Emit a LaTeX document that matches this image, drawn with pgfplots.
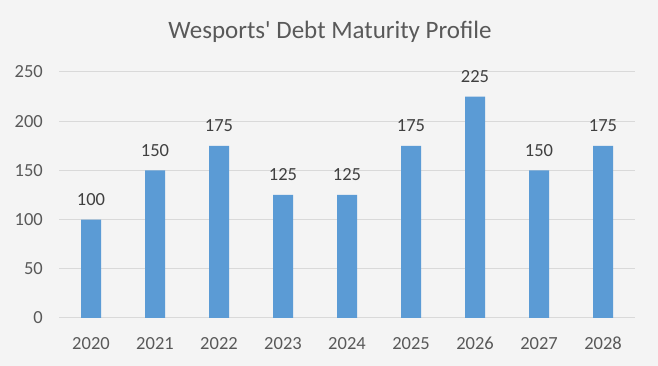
\documentclass[border=0pt]{standalone}
\usepackage{fontspec}
\setmainfont{Carlito}
\usepackage{pgfplots}
\pgfplotsset{compat=1.18}
\definecolor{bg}{HTML}{F4F4F4}
\definecolor{barblue}{HTML}{5B9BD5}
\definecolor{gridc}{HTML}{D9D9D9}
\definecolor{txt}{HTML}{595959}
\definecolor{lbl}{HTML}{404040}
\begin{document}
\begin{tikzpicture}
\useasboundingbox[fill=bg] (0,0) rectangle (658bp,366bp);
\node[font=\fontsize{25bp}{28bp}\selectfont, text=txt, anchor=center] at (330bp,334bp) {Wesports\textquotesingle\ Debt Maturity Profile};
\begin{axis}[
  at={(59bp,48bp)}, anchor=south west,
  scale only axis, width=576bp, height=246bp,
  xmin=-0.5, xmax=8.5, ymin=0, ymax=250,
  ytick={0,50,...,250},
  xtick={0,...,8},
  xticklabels={2020,2021,2022,2023,2024,2025,2026,2027,2028},
  major tick length=0pt,
  axis line style={draw=none},
  ymajorgrids, major grid style={gridc, line width=1bp},
  /pgf/number format/assume math mode=true,
  tick label style={font=\fontsize{18.5bp}{22bp}\selectfont, text=txt, inner sep=0pt},
  xticklabel style={anchor=north, yshift=-19bp},
  yticklabel style={anchor=east, xshift=-16bp},
  ybar, bar width=20bp,
  nodes near coords,
  every node near coord/.append style={font=\fontsize{18.5bp}{22bp}\selectfont, text=lbl, inner sep=0pt, anchor=south, yshift=14bp},
  clip=false,
]
\addplot[fill=barblue, draw=none] coordinates {(0,100) (1,150) (2,175) (3,125) (4,125) (5,175) (6,225) (7,150) (8,175)};
\end{axis}
\end{tikzpicture}
\end{document}
